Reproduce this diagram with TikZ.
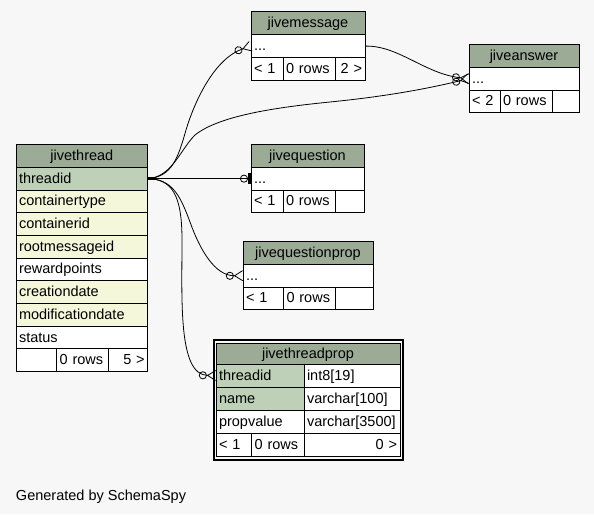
\documentclass[tikz,border=0pt]{standalone}
\usepackage{fontspec}
\setmainfont{Liberation Sans}
\usetikzlibrary{arrows.meta,positioning}

\definecolor{bgcol}{HTML}{F7F7F7}
\definecolor{headcol}{HTML}{9BAB96}
\definecolor{keycol}{HTML}{BED1B8}
\definecolor{idxcol}{HTML}{F4F7DA}
\newcommand{\tabfont}{\fontsize{14.5}{16}\selectfont}

\begin{document}
\begin{tikzpicture}[x=1pt,y=-1pt,line width=1pt,
		every node/.style={outer sep=0pt,font=\tabfont},
		tabhead/.style={draw,fill=headcol,inner sep=0pt,minimum height=23.3pt,minimum width=#1,text height=11.5pt,text depth=2.5pt},
		tabrow/.style={draw,fill=white,inner xsep=3pt,inner ysep=0pt,minimum height=22.7pt,text width=#1,align=left,text height=11.5pt,text depth=2.5pt},
		rel/.style={line width=0.8pt},
		many/.style={-{Circle[open,length=8pt,width=8pt] Straight Barb[reversed,length=8pt,width=10pt]}},
		one/.style={{Rectangle[length=7pt,width=3pt]}-{Circle[open,length=8pt,width=8pt] Rectangle[length=3pt,width=11pt]}}]

		\path[fill=bgcol] (0,0) rectangle (594,514);

		% jivethread
		\node[tabhead=131.7pt,anchor=north west] (jt) at (16,144) {jivethread};
		\node[tabrow=125.7pt,fill=keycol,below=0pt of jt] (jt1) {threadid};
		\node[tabrow=125.7pt,fill=idxcol,below=0pt of jt1] (jt2) {containertype};
		\node[tabrow=125.7pt,fill=idxcol,below=0pt of jt2] (jt3) {containerid};
		\node[tabrow=125.7pt,fill=idxcol,below=0pt of jt3] (jt4) {rootmessageid};
		\node[tabrow=125.7pt,below=0pt of jt4] (jt5) {rewardpoints};
		\node[tabrow=125.7pt,fill=idxcol,below=0pt of jt5] (jt6) {creationdate};
		\node[tabrow=125.7pt,fill=idxcol,below=0pt of jt6] (jt7) {modificationdate};
		\node[tabrow=125.7pt,below=0pt of jt7] (jt8) {status};
		\node[tabrow=34.7pt,below right=0pt and 0pt of jt8.south west] (jtf1) {};
		\node[tabrow=45.6pt,right=0pt of jtf1] (jtf2) {0 rows};
		\node[tabrow=33.4pt,align=right,right=0pt of jtf2] (jtf3) {5 >};

		% jivemessage
		\node[tabhead=114pt,anchor=north west] (jm) at (251,11.5) {jivemessage};
		\node[tabrow=108pt,below=0pt of jm] (jm1) {...};
		\node[tabrow=26pt,below right=0pt and 0pt of jm1.south west] (jmf1) {< 1};
		\node[tabrow=46.7pt,right=0pt of jmf1] (jmf2) {0 rows};
		\node[tabrow=23.3pt,align=right,right=0pt of jmf2] (jmf3) {2 >};

		% jiveanswer
		\node[tabhead=110pt,anchor=north west] (ja) at (469,44) {jiveanswer};
		\node[tabrow=104pt,below=0pt of ja] (ja1) {...};
		\node[tabrow=25pt,below right=0pt and 0pt of ja1.south west] (jaf1) {< 2};
		\node[tabrow=46pt,right=0pt of jaf1] (jaf2) {0 rows};
		\node[tabrow=21pt,right=0pt of jaf2] (jaf3) {};

		% jivequestion
		\node[tabhead=113pt,anchor=north west] (jq) at (251,144) {jivequestion};
		\node[tabrow=107pt,below=0pt of jq] (jq1) {...};
		\node[tabrow=26pt,below right=0pt and 0pt of jq1.south west] (jqf1) {< 1};
		\node[tabrow=46pt,right=0pt of jqf1] (jqf2) {0 rows};
		\node[tabrow=23pt,right=0pt of jqf2] (jqf3) {};

		% jivequestionprop
		\node[tabhead=130pt,anchor=north west] (jqp) at (243,241) {jivequestionprop};
		\node[tabrow=124pt,below=0pt of jqp] (jqp1) {...};
		\node[tabrow=34.5pt,below right=0pt and 0pt of jqp1.south west] (jqpf1) {< 1};
		\node[tabrow=46pt,right=0pt of jqpf1] (jqpf2) {0 rows};
		\node[tabrow=31.5pt,right=0pt of jqpf2] (jqpf3) {};

		% jivethreadprop
		\draw[line width=2pt] (213.5,340.3) rectangle (403.3,459.5);
		\node[tabhead=184pt,minimum height=21pt,anchor=north west] (jtp) at (216,343) {jivethreadprop};
		\node[tabrow=82pt,minimum height=23pt,fill=keycol,below right=0pt and 0pt of jtp.south west] (jtp1a) {threadid};
		\node[tabrow=90pt,minimum height=23pt,right=0pt of jtp1a] (jtp1b) {int8[19]};
		\node[tabrow=82pt,minimum height=23pt,fill=keycol,below=0pt of jtp1a] (jtp2a) {name};
		\node[tabrow=90pt,minimum height=23pt,right=0pt of jtp2a] (jtp2b) {varchar[100]};
		\node[tabrow=82pt,minimum height=23pt,below=0pt of jtp2a] (jtp3a) {propvalue};
		\node[tabrow=90pt,minimum height=23pt,right=0pt of jtp3a] (jtp3b) {varchar[3500]};
		\node[tabrow=29.7pt,minimum height=23pt,below right=0pt and 0pt of jtp3a.south west] (jtpf1) {< 1};
		\node[tabrow=46.3pt,minimum height=23pt,right=0pt of jtpf1] (jtpf2) {0 rows};
		\node[tabrow=90pt,minimum height=23pt,align=right,right=0pt of jtpf2] (jtpf3) {0 >};

		% relations
		\draw[rel,many] (jt1.east) .. controls (172,177) and (178,158) .. (186,130)
			.. controls (195,100) and (215,58) .. (jm1.west);
		\draw[rel,many] (jt1.east) .. controls (172,177) and (180,150) .. (195,135)
			.. controls (220,115) and (280,107) .. (330,102)
			.. controls (390,96) and (430,88) .. (ja1.west);
		\draw[rel,many] (jm1.east) .. controls (398,45) and (425,74) .. (ja1.west);
		\draw[rel,one] (jt1.east) -- (jq1.west);
		\draw[rel,many] (jt1.east) .. controls (172,179) and (180,195) .. (190,222)
			.. controls (200,250) and (215,276) .. (jqp1.west);
		\draw[rel,many] (jt1.east) .. controls (172,179) and (182,195) .. (182,240)
			.. controls (182,300) and (178,375) .. (jtp1a.west);

		\node[anchor=west,inner sep=0pt] (gen) at (16,497) {Generated by SchemaSpy};
	\end{tikzpicture}
\end{document}
